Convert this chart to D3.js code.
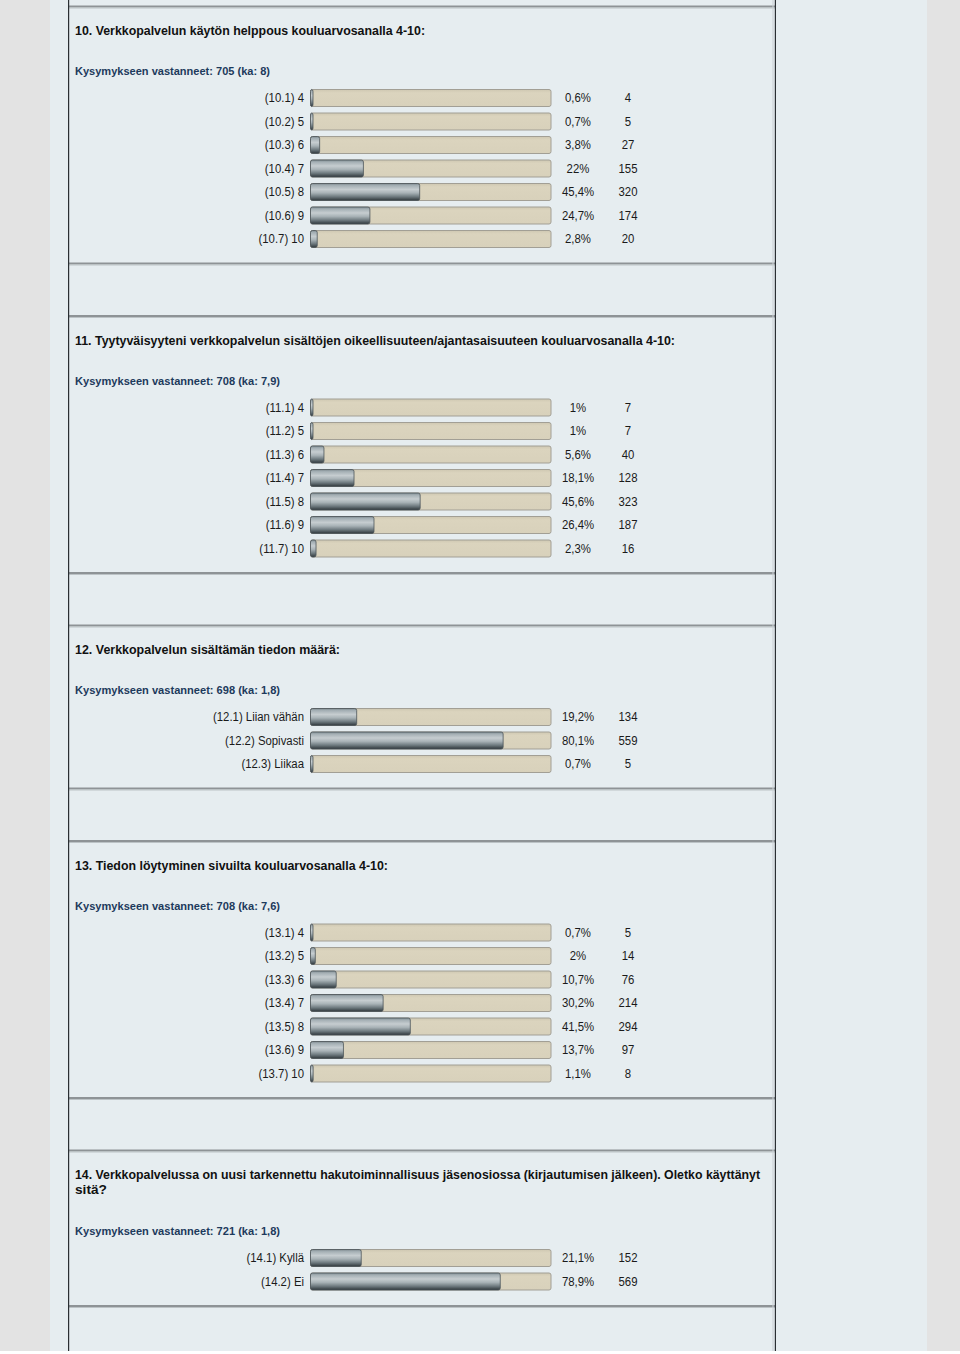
<!DOCTYPE html>
<html><head><meta charset="utf-8">
<script src="https://cdn.jsdelivr.net/npm/d3@7"></script>
<style>html,body{margin:0;padding:0;background:#fff}svg{display:block}</style>
</head><body>
<script>
// ---- data ----
const titles = [
  ["10. Verkkopalvelun käytön helppous kouluarvosanalla 4-10:"],
  ["11. Tyytyväisyyteni verkkopalvelun sisältöjen oikeellisuuteen/ajantasaisuuteen kouluarvosanalla 4-10:"],
  ["12. Verkkopalvelun sisältämän tiedon määrä:"],
  ["13. Tiedon löytyminen sivuilta kouluarvosanalla 4-10:"],
  ["14. Verkkopalvelussa on uusi tarkennettu hakutoiminnallisuus jäsenosiossa (kirjautumisen jälkeen). Oletko käyttänyt", "sitä?"]
];
const subtitles = [
  "Kysymykseen vastanneet: 705 (ka: 8)",
  "Kysymykseen vastanneet: 708 (ka: 7,9)",
  "Kysymykseen vastanneet: 698 (ka: 1,8)",
  "Kysymykseen vastanneet: 708 (ka: 7,6)",
  "Kysymykseen vastanneet: 721 (ka: 1,8)"
];
const q10Labels = ["(10.1) 4","(10.2) 5","(10.3) 6","(10.4) 7","(10.5) 8","(10.6) 9","(10.7) 10"];
const q10Pct = [0.6, 0.7, 3.8, 22, 45.4, 24.7, 2.8];
const q10Count = [4, 5, 27, 155, 320, 174, 20];
const q11Labels = ["(11.1) 4","(11.2) 5","(11.3) 6","(11.4) 7","(11.5) 8","(11.6) 9","(11.7) 10"];
const q11Pct = [1, 1, 5.6, 18.1, 45.6, 26.4, 2.3];
const q11Count = [7, 7, 40, 128, 323, 187, 16];
const q12Labels = ["(12.1) Liian vähän","(12.2) Sopivasti","(12.3) Liikaa"];
const q12Pct = [19.2, 80.1, 0.7];
const q12Count = [134, 559, 5];
const q13Labels = ["(13.1) 4","(13.2) 5","(13.3) 6","(13.4) 7","(13.5) 8","(13.6) 9","(13.7) 10"];
const q13Pct = [0.7, 2, 10.7, 30.2, 41.5, 13.7, 1.1];
const q13Count = [5, 14, 76, 214, 294, 97, 8];
const q14Labels = ["(14.1) Kyllä","(14.2) Ei"];
const q14Pct = [21.1, 78.9];
const q14Count = [152, 569];

const sections = [
  {labels:q10Labels, pct:q10Pct, count:q10Count},
  {labels:q11Labels, pct:q11Pct, count:q11Count},
  {labels:q12Labels, pct:q12Pct, count:q12Count},
  {labels:q13Labels, pct:q13Pct, count:q13Count},
  {labels:q14Labels, pct:q14Pct, count:q14Count}
];

// ---- layout (style, not data) ----
const W = 960, H = 1354;
const titleWidths = [[350],[600],[265],[313],[685,32]];
const subWidths = [195,205,205,205,205];
const FONT = "'Liberation Sans', Arial, Helvetica, sans-serif";
const rowStep = 23.5;

const svg = d3.select("body").append("svg").attr("width", W).attr("height", H)
  .style("font-family", FONT);

const defs = svg.append("defs");
const g1 = defs.append("linearGradient").attr("id","metal").attr("x1",0).attr("y1",0).attr("x2",0).attr("y2",1);
[[0,"#7f8b90"],[0.12,"#a4afb4"],[0.35,"#c6cdd0"],[0.55,"#a9b3b7"],[0.78,"#6d797e"],[1,"#2f373b"]]
  .forEach(([o,c])=>g1.append("stop").attr("offset",o).attr("stop-color",c));
const g2 = defs.append("linearGradient").attr("id","track").attr("x1",0).attr("y1",0).attr("x2",0).attr("y2",1);
[[0,"#cfc8b2"],[0.2,"#dbd4be"],[1,"#d8d1bb"]]
  .forEach(([o,c])=>g2.append("stop").attr("offset",o).attr("stop-color",c));

// backgrounds
svg.append("rect").attr("x",0).attr("y",0).attr("width",W).attr("height",H).attr("fill","#e3e3e3");
svg.append("rect").attr("x",50).attr("y",0).attr("width",877).attr("height",1351).attr("fill","#e6edf0");
svg.append("rect").attr("x",0).attr("y",1351).attr("width",W).attr("height",3).attr("fill","#ffffff");

const x = d3.scaleLinear().domain([0,100]).range([310.5, 551]);

function separator(y){
  svg.append("rect").attr("x",69).attr("y",y-1.5).attr("width",706).attr("height",2).attr("fill","#8e9396");
  svg.append("rect").attr("x",69).attr("y",y+0.5).attr("width",706).attr("height",1).attr("fill","#bcc3c6");
}

let y = 7;
const labelTexts = [];
sections.forEach((sec, si) => {
  separator(y);
  // title
  const tl = titles[si];
  tl.forEach((line, li) => {
    svg.append("text").attr("x",75).attr("y", y + 23.5 + li*15 + 4.5)
      .attr("font-size",13).attr("font-weight","bold").attr("fill","#111")
      .attr("textLength", titleWidths[si][li]).attr("lengthAdjust","spacingAndGlyphs")
      .text(line);
  });
  const extra = (tl.length - 1) * 16;
  svg.append("text").attr("x",75).attr("y", y + 64 + extra + 4)
    .attr("font-size",11.5).attr("font-weight","bold").attr("fill","#1d3a5c")
    .attr("textLength", subWidths[si]).attr("lengthAdjust","spacingAndGlyphs")
    .text(subtitles[si]);
  const y0 = y + 91 + extra;
  const rows = sec.labels.map((l,i)=>({label:l, pct:sec.pct[i], count:sec.count[i], cy:y0 + i*rowStep}));
  const g = svg.append("g");
  // tracks
  g.selectAll("rect.track").data(rows).join("rect").attr("class","track")
    .attr("x", x(0)).attr("y", d=>d.cy-8.5).attr("width", x(100)-x(0)).attr("height",17)
    .attr("rx",2).attr("fill","url(#track)").attr("stroke","#a29f95").attr("stroke-width",1);
  // fills
  g.selectAll("rect.fill").data(rows).join("rect").attr("class","fill")
    .attr("x", x(0)).attr("y", d=>d.cy-8.5)
    .attr("width", d=>Math.max(2.5, x(d.pct)-x(0))).attr("height",17)
    .attr("rx",2).attr("fill","url(#metal)").attr("stroke","#4d565b").attr("stroke-width",0.8);
  // labels
  g.selectAll("text.lab").data(rows).join("text").attr("class","lab")
    .attr("x",304).attr("y",d=>d.cy+4).attr("text-anchor","end")
    .attr("font-size",12).attr("fill","#1a1a1a").text(d=>d.label)
    .each(function(){labelTexts.push(this);});
  g.selectAll("text.pct").data(rows).join("text").attr("class","pct")
    .attr("x",578).attr("y",d=>d.cy+4).attr("text-anchor","middle")
    .attr("font-size",12).attr("fill","#1a1a1a").text(d=>String(d.pct).replace(".",",")+"%")
    .each(function(){labelTexts.push(this);});
  g.selectAll("text.cnt").data(rows).join("text").attr("class","cnt")
    .attr("x",628).attr("y",d=>d.cy+4).attr("text-anchor","middle")
    .attr("font-size",12).attr("fill","#1a1a1a").text(d=>d.count)
    .each(function(){labelTexts.push(this);});
  const lastCy = rows[rows.length-1].cy;
  y = lastCy + 25;
  separator(y);
  y += 52.5;
});

// condense body texts to match the narrow rendering
const ref = labelTexts.find(t=>t.textContent==="(12.1) Liian vähän");
const ratio = 91 / ref.getComputedTextLength();
labelTexts.forEach(t=>{
  const w = t.getComputedTextLength();
  d3.select(t).attr("textLength", w*ratio).attr("lengthAdjust","spacingAndGlyphs");
});

// borders
svg.append("rect").attr("x",68).attr("y",0).attr("width",1.2).attr("height",1351).attr("fill","#2a2f33");
svg.append("rect").attr("x",772.5).attr("y",0).attr("width",1).attr("height",1351).attr("fill","#c9d0d3");
svg.append("rect").attr("x",774.8).attr("y",0).attr("width",1.2).attr("height",1351).attr("fill","#2a2f33");
</script>
</body></html>
